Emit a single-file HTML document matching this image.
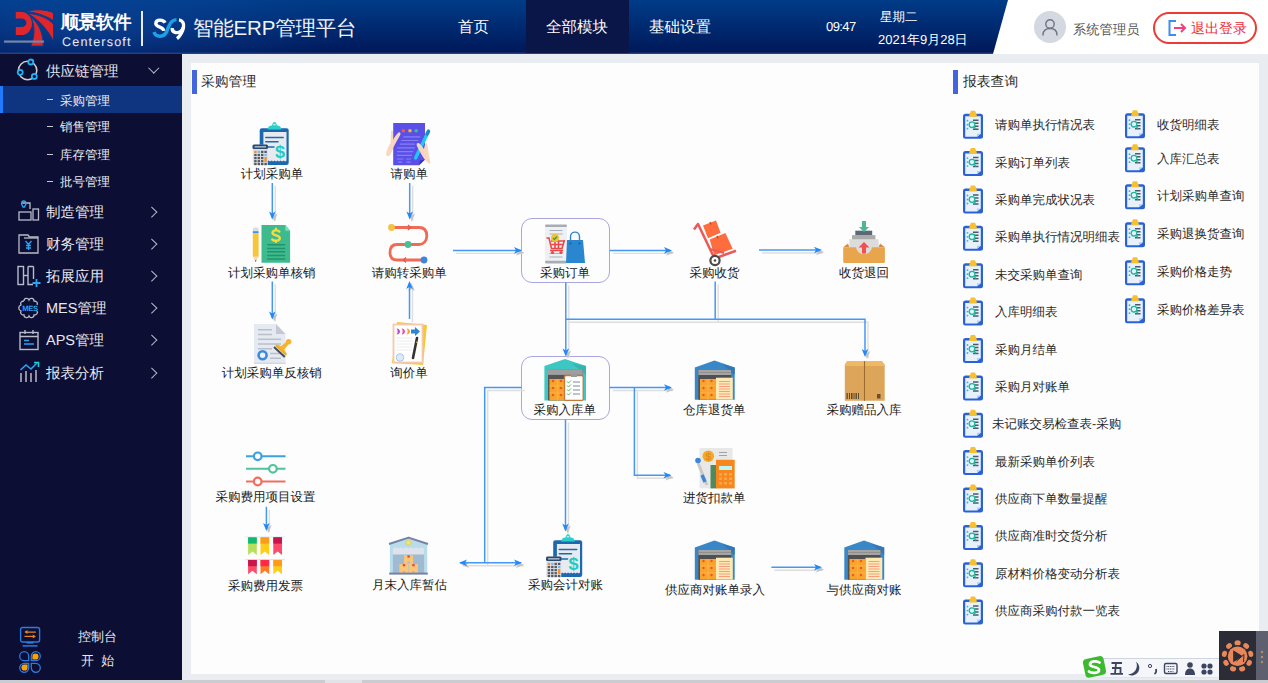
<!DOCTYPE html>
<html><head><meta charset="utf-8">
<style>
*{box-sizing:border-box;margin:0;padding:0}
html,body{width:1268px;height:683px;overflow:hidden;background:#e9ecf1;font-family:"Liberation Sans",sans-serif;text-rendering:geometricPrecision}
.abs{position:absolute}
#hdr{position:absolute;left:0;top:0;width:1268px;height:54px;background:#fff}
#hdrblue{position:absolute;left:0;top:0;width:1008px;height:54px;background:linear-gradient(#003c88 0%,#00195a 96%,#3a4a80 100%);clip-path:polygon(0 0,1008px 0,993px 54px,0 54px)}
.wt{color:#fff;white-space:nowrap}
#side{position:absolute;left:0;top:54px;width:182px;height:626px;background:#0c0e33}
.mi{position:absolute;left:46px;color:#e6e8ef;font-size:14.5px;white-space:nowrap;line-height:16px}
.si{position:absolute;left:60px;color:#e6e8ef;font-size:12.5px;white-space:nowrap;line-height:14px}
.dash{position:absolute;left:47px;width:6px;height:1.3px;background:#c8cad4}
.chev{position:absolute;left:147.5px;width:7.5px;height:7.5px;border-right:1.4px solid #b9bccb;border-top:1.4px solid #b9bccb;transform:rotate(45deg)}
#main{position:absolute;left:191px;top:63px;width:1068px;height:611px;background:#fdfdfe}
#rep{display:none}
.bar{position:absolute;width:5px;height:24px;background:#4466dd}
.ttl{position:absolute;font-size:13.8px;color:#2a2a2a;font-weight:500;white-space:nowrap;line-height:16px}
.lbl{position:absolute;font-size:12.5px;color:#1a1a1a;font-weight:500;white-space:nowrap;line-height:14px;transform:translateX(-50%)}
.ri{position:absolute;font-size:12.5px;color:#2a2a2a;font-weight:500;white-space:nowrap;line-height:14px}
.box{position:absolute;border:1.5px solid #aaa7e0;border-radius:11px}
</style></head><body>
<div id="hdr"></div>
<div id="hdrblue"></div>
<div class="abs" style="left:0;top:0;width:420px;height:53px;background:radial-gradient(ellipse 260px 60px at 90px 30px, rgba(20,85,180,0.45), rgba(20,85,180,0) 100%)"></div>

<!-- logo -->
<svg class="abs" style="left:0;top:0" width="200" height="53" viewBox="0 0 200 53">
 <path fill-rule="evenodd" d="M15.8,12.1 L21.5,12.1 A10.5,11.45 0 0 1 21.5,35 L15.8,35 Z M15.8,18.5 L21.5,18.5 A5,4.25 0 0 1 21.5,27 L15.8,27 Z" fill="#e1262b"/>
 <path d="M26,11.6 C33,9.2 45,8.8 53.5,12.8 L53.5,20.6 C45,15.2 35,12.4 26,11.6 Z" fill="#e1262b" stroke="#0a3d8e" stroke-width="1"/>
 <path d="M29.2,13.5 C38,14.2 48,18 53.5,24.2 L53.5,41 C48,30.5 40,20.5 29.2,14.4 Z" fill="#e1262b" stroke="#0a3d8e" stroke-width="1"/>
 <path d="M31,17.3 C38.5,23 43.5,33 43.2,46 L31,46 C34,38 36,28 31,17.3 Z" fill="#e1262b" stroke="#0a3d8e" stroke-width="1"/>
 <path d="M165,22.8 C163.5,19.5 156,18.8 155.8,23.5 C155.8,27.5 163.5,26.5 163.8,30.8" fill="none" stroke="#fff" stroke-width="3.4" stroke-linecap="butt"/>
 <path d="M154,32 C155.5,37 164,38.5 167,31 C169,25 171,20 176.5,19.6" fill="none" stroke="#1ea0e8" stroke-width="3.4"/>
 <path d="M179,19.8 C183,20.5 184,24 183.5,27 C183,31 180,36.5 177,38.6" fill="none" stroke="#fff" stroke-width="3.4"/>
 <path d="M183.3,27.5 C182,31 178.5,33 175.5,32.5 C173,32 172,30 172.3,28" fill="none" stroke="#fff" stroke-width="3.4"/>
</svg>
<div class="abs wt" style="left:61px;top:10px;font-size:18px;font-weight:bold;letter-spacing:-0.5px;line-height:24px">顺景软件</div>
<div class="abs wt" style="left:62px;top:33.5px;font-size:12.6px;letter-spacing:1.15px;line-height:16px;color:#e8ecf4">Centersoft</div>
<div class="abs" style="left:141px;top:11px;width:2px;height:35px;background:#e8ecf4"></div>

<div class="abs wt" style="left:193px;top:16.5px;font-size:20.5px;letter-spacing:-0.2px;line-height:24px;color:#f2f4f8">智能ERP管理平台</div>
<!-- nav -->
<div class="abs" style="left:526px;top:0;width:103px;height:53px;background:#0a1548"></div>
<div class="abs wt" style="left:458px;top:19px;font-size:15.5px;line-height:18px">首页</div>
<div class="abs wt" style="left:546px;top:19px;font-size:15.5px;line-height:18px">全部模块</div>
<div class="abs wt" style="left:649px;top:19px;font-size:15.5px;line-height:18px">基础设置</div>
<div class="abs wt" style="left:826px;top:18.5px;font-size:13px;letter-spacing:-0.6px;line-height:16px">09:47</div>
<div class="abs wt" style="left:880px;top:9.5px;font-size:12.5px;line-height:15px">星期二</div>
<div class="abs wt" style="left:878px;top:31.8px;font-size:13px;line-height:15px">2021年9月28日</div>
<!-- user -->
<div class="abs" style="left:1034px;top:11px;width:32px;height:32px;border-radius:50%;background:#d3d8e1"></div>
<svg class="abs" style="left:1040px;top:17px" width="20" height="20" viewBox="0 0 20 20">
 <circle cx="10" cy="7" r="4.2" fill="none" stroke="#6e7480" stroke-width="1.4"/>
 <path d="M3 18 C3 13 6.5 11.5 10 11.5 C13.5 11.5 17 13 17 18" fill="none" stroke="#6e7480" stroke-width="1.4" stroke-linecap="round"/>
</svg>
<div class="abs" style="left:1073px;top:21.5px;font-size:13.3px;line-height:16px;color:#555;white-space:nowrap">系统管理员</div>
<div class="abs" style="left:1153px;top:12px;width:104px;height:32px;border:2px solid #ec3a34;border-radius:16px"></div>
<svg class="abs" style="left:1167px;top:19px" width="22" height="18" viewBox="0 0 22 18">
 <path d="M9 2 L2.5 2 L2.5 16 L9 16" fill="none" stroke="#3d8cf0" stroke-width="2"/>
 <path d="M7 9 L18 9 M14 5 L18 9 L14 13" fill="none" stroke="#f0417a" stroke-width="2"/>
</svg>
<div class="abs" style="left:1191px;top:20px;font-size:14px;line-height:16px;color:#ee2b3b;white-space:nowrap">退出登录</div>

<div id="side">
 <div class="abs" style="left:0;top:32px;width:182px;height:27px;background:#0f3580"></div>
 <div class="abs" style="left:0;top:32px;width:3px;height:27px;background:#1f7bff"></div>
</div>
<!-- sidebar contents (page coords) -->
<svg class="abs" style="left:16px;top:58px" width="24" height="24" viewBox="0 0 24 24">
 <circle cx="11.6" cy="12.5" r="9.2" fill="none" stroke="#c9cbd3" stroke-width="1.6"/>
 <circle cx="14.8" cy="4" r="2.5" fill="#0c0e33" stroke="#1fb3f0" stroke-width="1.8"/>
 <circle cx="4.2" cy="14.3" r="2.5" fill="#0c0e33" stroke="#1fb3f0" stroke-width="1.8"/>
 <circle cx="18.3" cy="18.4" r="2.5" fill="#0c0e33" stroke="#1fb3f0" stroke-width="1.8"/>
</svg>
<div class="mi" style="top:63.5px;font-size:14.5px;line-height:17px">供应链管理</div>
<div class="abs" style="left:149.5px;top:64px;width:7.5px;height:7.5px;border-right:1.4px solid #b9bccb;border-bottom:1.4px solid #b9bccb;transform:rotate(45deg)"></div>
<div class="dash" style="top:99px"></div><div class="si" style="top:93.5px">采购管理</div>
<div class="dash" style="top:126px"></div><div class="si" style="top:120.3px">销售管理</div>
<div class="dash" style="top:153.5px"></div><div class="si" style="top:147.6px">库存管理</div>
<div class="dash" style="top:181px"></div><div class="si" style="top:175px">批号管理</div>
<div class="mi" style="top:205px">制造管理</div><div class="chev" style="top:207.5px"></div>
<div class="mi" style="top:237px">财务管理</div><div class="chev" style="top:239.5px"></div>
<div class="mi" style="top:269px">拓展应用</div><div class="chev" style="top:271.5px"></div>
<div class="mi" style="top:301px">MES管理</div><div class="chev" style="top:303.5px"></div>
<div class="mi" style="top:333px">APS管理</div><div class="chev" style="top:335.5px"></div>
<div class="mi" style="top:366px">报表分析</div><div class="chev" style="top:368.5px"></div>
<!-- menu icons -->
<svg class="abs" style="left:17.5px;top:200px" width="24" height="22" viewBox="0 0 24 22">
 <path d="M4 3 L12 3 L12 9" fill="none" stroke="#b9bcc8" stroke-width="1.3"/>
 <path d="M5.5 1 C7.5 1 8 2.5 8 3.5 C8 5 6.5 6 6.5 7 L5 7 C5 6 3.5 5 3.5 3.5 C3.5 2.5 4 1 5.5 1 Z" fill="none" stroke="#2aa4f4" stroke-width="1.3"/>
 <rect x="1" y="12" width="12" height="8" fill="none" stroke="#b9bcc8" stroke-width="1.3"/>
 <rect x="15" y="9" width="5.5" height="11" fill="none" stroke="#b9bcc8" stroke-width="1.3"/>
</svg>
<svg class="abs" style="left:17.5px;top:233px" width="24" height="22" viewBox="0 0 24 22">
 <path d="M1 2 L10 2 L11.5 4 L20 4 L20 20 L1 20 Z" fill="none" stroke="#b9bcc8" stroke-width="1.3"/>
 <path d="M6 5 L20 5" fill="none" stroke="#b9bcc8" stroke-width="1.3"/>
 <path d="M7.5 8 L10.5 11.5 L13.5 8 M10.5 11.5 L10.5 17 M8 12.5 L13 12.5 M8 15 L13 15" fill="none" stroke="#2aa4f4" stroke-width="1.3"/>
</svg>
<svg class="abs" style="left:16.5px;top:265px" width="26" height="22" viewBox="0 0 26 22">
 <rect x="1" y="1.5" width="5.5" height="18" fill="none" stroke="#b9bcc8" stroke-width="1.4"/>
 <path d="M6.5 10.5 L11 10.5" stroke="#b9bcc8" stroke-width="1.4"/>
 <path d="M11 1.5 L16.5 1.5 M11 1.5 L11 19.5 L16 19.5" fill="none" stroke="#b9bcc8" stroke-width="1.4"/>
 <path d="M16.5 1.5 L16.5 14" fill="none" stroke="#b9bcc8" stroke-width="1.4"/>
 <path d="M19.5 14 L19.5 22 M15.5 18 L23.5 18" stroke="#2aa4f4" stroke-width="1.8"/>
</svg>
<svg class="abs" style="left:16.5px;top:297px" width="26" height="22" viewBox="0 0 26 22">
 <path d="M7 4 C7 1 11 0.5 12 3 C13 0.5 17 1 17 4 C20 4 21 6 20 8 M20 14 C21 16 20 18 17 18 C17 21 13 21.5 12 19 C11 21.5 7 21 7 18 C4 18 3 16 4 14 C1 13 1 9 4 8 C3 6 4 4 7 4" fill="none" stroke="#b9bcc8" stroke-width="1.3"/>
 <text x="5.2" y="14.2" font-family="Liberation Sans" font-weight="bold" font-size="7.6" letter-spacing="-0.3" fill="#2aa4f4">MES</text>
</svg>
<svg class="abs" style="left:18.5px;top:329px" width="22" height="22" viewBox="0 0 22 22">
 <rect x="1" y="3.5" width="18" height="17" fill="none" stroke="#b9bcc8" stroke-width="1.4"/>
 <path d="M1 7.5 L19 7.5 M6 1 L6 5 M14 1 L14 5" fill="none" stroke="#b9bcc8" stroke-width="1.4"/>
 <path d="M5 11.5 L10 11.5 M5 15 L15 15" stroke="#2aa4f4" stroke-width="1.6"/>
</svg>
<svg class="abs" style="left:18.5px;top:361px" width="22" height="22" viewBox="0 0 22 22">
 <path d="M2 12 L2 21 M7 10 L7 21 M12 12 L12 21 M17 9 L17 21" stroke="#b9bcc8" stroke-width="1.5"/>
 <path d="M1.5 9 L7 4 L12 8 L18 2" fill="none" stroke="#2aa4f4" stroke-width="1.6"/>
 <path d="M15 1.5 L19.5 1.5 L19.5 6" fill="none" stroke="#20d0d0" stroke-width="1.6"/>
</svg>
<!-- bottom -->
<svg class="abs" style="left:19px;top:626px" width="23" height="22" viewBox="0 0 23 22">
 <rect x="1.6" y="1.5" width="19" height="14.5" rx="2" fill="none" stroke="#2a7be2" stroke-width="1.4"/>
 <rect x="7.5" y="16" width="7" height="1.6" fill="#2a7be2"/>
 <path d="M3.5 19.9 L18.5 19.9" stroke="#2a7be2" stroke-width="1.5"/>
 <path d="M6.5 6.1 L16.8 6.1 M5.5 10.4 L15.5 10.4" stroke="#e8841e" stroke-width="1.2"/>
 <path d="M8.5 4.1 L5.4 6.1 L8.5 8.1 Z M13.8 8.4 L16.9 10.4 L13.8 12.4 Z" fill="#e8841e"/>
</svg>
<svg class="abs" style="left:19px;top:651px" width="22" height="22" viewBox="0 0 22 22">
 <path d="M9.7 9.7 L5.2 9.7 A4.5 4.5 0 1 1 9.7 5.2 Z" fill="none" stroke="#2a7be2" stroke-width="1.3"/>
 <path d="M12.3 9.7 L12.3 5.2 A4.5 4.5 0 1 1 16.8 9.7 Z" fill="none" stroke="#2a7be2" stroke-width="1.3"/>
 <path d="M13.4 8.6 L13.4 5.6 A3.1 3.1 0 1 1 16.4 8.6 Z" fill="#f7a20a"/>
 <path d="M9.7 12.3 L9.7 16.8 A4.5 4.5 0 1 1 5.2 12.3 Z" fill="none" stroke="#2a7be2" stroke-width="1.3"/>
 <path d="M8.6 13.4 L8.6 16.4 A3.1 3.1 0 1 1 5.6 13.4 Z" fill="#f7a20a"/>
 <path d="M12.3 12.3 L16.8 12.3 A4.5 4.5 0 1 1 12.3 16.8 Z" fill="none" stroke="#2a7be2" stroke-width="1.3"/>
</svg>
<div class="abs wt" style="left:78px;top:629px;font-size:13px;line-height:16px;color:#e6e8ef">控制台</div>
<div class="abs wt" style="left:81px;top:653px;font-size:13px;line-height:16px;color:#e6e8ef">开&nbsp;&nbsp;始</div>
<!-- panels -->
<div id="main"></div>
<div id="rep"></div>
<div class="bar" style="left:192px;top:70px"></div>
<div class="ttl" style="left:201px;top:74px">采购管理</div>
<div class="bar" style="left:953px;top:70px"></div>
<div class="ttl" style="left:963px;top:74px">报表查询</div>
<div class="box" style="left:521px;top:218px;width:89px;height:65px"></div>
<div class="box" style="left:521px;top:356px;width:89px;height:64px"></div>
<svg class="abs" style="left:0;top:0" width="1268" height="683" viewBox="0 0 1268 683"><defs>
<symbol id="ri" viewBox="0 0 22 30">
 <rect x="1" y="4" width="20" height="25" rx="2.5" fill="#2a62d6"/>
 <path d="M3.2 6.5 L18.8 6.5 L18.8 24 L15 27 L3.2 27 Z" fill="#e6f1fb"/>
 <path d="M15 27 L18.8 24 L15 24 Z" fill="#b8cce8"/>
 <path d="M7.5 4.5 L9 1 L13 1 L14.5 4.5 L15 7 L7 7 Z" fill="#f6c02e"/>
 <circle cx="5.5" cy="11" r="0.9" fill="#30b0f0"/><circle cx="5.5" cy="15" r="0.9" fill="#30b0f0"/><circle cx="5.5" cy="19" r="0.9" fill="#30b0f0"/>
 <path d="M11 10.5 L16.5 10.5 M12.5 13.5 L16.5 13.5 M13 16.5 L16.5 16.5 M11 19.5 L16.5 19.5" stroke="#4a5a6a" stroke-width="1.5"/>
 <circle cx="10" cy="15" r="2.8" fill="#e6f1fb" stroke="#22b59a" stroke-width="1.3"/>
 <path d="M12 17 L14 19.5" stroke="#22b59a" stroke-width="1.3"/>
</symbol></defs><path d="M275.3,186.0 L275.3,221.0" fill="none" stroke="#dedede" stroke-width="1.4"/>
<path d="M274.3,221.5 L271.0,213.5 L274.3,215.5 L277.6,213.5Z" fill="#c4c4c4"/>
<path d="M272.3,183.0 L272.3,218.0" fill="none" stroke="#4497f7" stroke-width="1.5"/>
<path d="M272.3,219.5 L269.0,211.5 L272.3,213.5 L275.6,211.5Z" fill="#2389f5"/>
<path d="M412.7,186.0 L412.7,221.0" fill="none" stroke="#dedede" stroke-width="1.4"/>
<path d="M411.7,221.5 L408.4,213.5 L411.7,215.5 L415.0,213.5Z" fill="#c4c4c4"/>
<path d="M409.7,183.0 L409.7,218.0" fill="none" stroke="#4497f7" stroke-width="1.5"/>
<path d="M409.7,219.5 L406.4,211.5 L409.7,213.5 L413.0,211.5Z" fill="#2389f5"/>
<path d="M275.3,284.5 L275.3,321.0" fill="none" stroke="#dedede" stroke-width="1.4"/>
<path d="M274.3,321.5 L271.0,313.5 L274.3,315.5 L277.6,313.5Z" fill="#c4c4c4"/>
<path d="M272.3,281.5 L272.3,318.0" fill="none" stroke="#4497f7" stroke-width="1.5"/>
<path d="M272.3,319.5 L269.0,311.5 L272.3,313.5 L275.6,311.5Z" fill="#2389f5"/>
<path d="M412.5,322.0 L412.5,286.0" fill="none" stroke="#dedede" stroke-width="1.4"/>
<path d="M411.5,283.0 L408.2,291.0 L411.5,289.0 L414.8,291.0Z" fill="#c4c4c4"/>
<path d="M409.5,319.0 L409.5,283.0" fill="none" stroke="#4497f7" stroke-width="1.5"/>
<path d="M409.5,281.0 L406.2,289.0 L409.5,287.0 L412.8,289.0Z" fill="#2389f5"/>
<path d="M456.0,253.4 L524.0,253.4" fill="none" stroke="#dedede" stroke-width="1.4"/>
<path d="M524.0,252.4 L516.0,249.1 L518.0,252.4 L516.0,255.7Z" fill="#c4c4c4"/>
<path d="M453.0,250.4 L521.0,250.4" fill="none" stroke="#4497f7" stroke-width="1.5"/>
<path d="M522.0,250.4 L514.0,247.1 L516.0,250.4 L514.0,253.7Z" fill="#2389f5"/>
<path d="M613.0,253.4 L673.0,253.4" fill="none" stroke="#dedede" stroke-width="1.4"/>
<path d="M674.0,252.4 L666.0,249.1 L668.0,252.4 L666.0,255.7Z" fill="#c4c4c4"/>
<path d="M610.0,250.4 L670.0,250.4" fill="none" stroke="#4497f7" stroke-width="1.5"/>
<path d="M672.0,250.4 L664.0,247.1 L666.0,250.4 L664.0,253.7Z" fill="#2389f5"/>
<path d="M762.0,253.0 L823.0,253.0" fill="none" stroke="#dedede" stroke-width="1.4"/>
<path d="M824.0,252.0 L816.0,248.7 L818.0,252.0 L816.0,255.3Z" fill="#c4c4c4"/>
<path d="M759.0,250.0 L820.0,250.0" fill="none" stroke="#4497f7" stroke-width="1.5"/>
<path d="M822.0,250.0 L814.0,246.7 L816.0,250.0 L814.0,253.3Z" fill="#2389f5"/>
<path d="M568.8,285.5 L568.8,358.0" fill="none" stroke="#dedede" stroke-width="1.4"/>
<path d="M567.8,358.6 L564.5,350.6 L567.8,352.6 L571.1,350.6Z" fill="#c4c4c4"/>
<path d="M565.8,282.5 L565.8,355.0" fill="none" stroke="#4497f7" stroke-width="1.5"/>
<path d="M565.8,356.6 L562.5,348.6 L565.8,350.6 L569.1,348.6Z" fill="#2389f5"/>
<path d="M718.2,284.5 L718.2,322.2" fill="none" stroke="#dedede" stroke-width="1.4"/>
<path d="M715.2,281.5 L715.2,319.2" fill="none" stroke="#4497f7" stroke-width="1.5"/>
<path d="M568.8,322.2 L868.0,322.2 L868.0,358.0" fill="none" stroke="#dedede" stroke-width="1.4"/>
<path d="M867.0,359.0 L863.7,351.0 L867.0,353.0 L870.3,351.0Z" fill="#c4c4c4"/>
<path d="M565.8,319.2 L865.0,319.2 L865.0,355.0" fill="none" stroke="#4497f7" stroke-width="1.5"/>
<path d="M865.0,357.0 L861.7,349.0 L865.0,351.0 L868.3,349.0Z" fill="#2389f5"/>
<path d="M612.7,390.5 L673.0,390.5" fill="none" stroke="#dedede" stroke-width="1.4"/>
<path d="M674.0,389.5 L666.0,386.2 L668.0,389.5 L666.0,392.8Z" fill="#c4c4c4"/>
<path d="M609.7,387.5 L670.0,387.5" fill="none" stroke="#4497f7" stroke-width="1.5"/>
<path d="M672.0,387.5 L664.0,384.2 L666.0,387.5 L664.0,390.8Z" fill="#2389f5"/>
<path d="M637.4,390.5 L637.4,478.2 L673.0,478.2" fill="none" stroke="#dedede" stroke-width="1.4"/>
<path d="M673.5,477.2 L665.5,473.9 L667.5,477.2 L665.5,480.5Z" fill="#c4c4c4"/>
<path d="M634.4,387.5 L634.4,475.2 L670.0,475.2" fill="none" stroke="#4497f7" stroke-width="1.5"/>
<path d="M671.5,475.2 L663.5,471.9 L665.5,475.2 L663.5,478.5Z" fill="#2389f5"/>
<path d="M524.7,390.5 L487.7,390.5 L487.7,565.7" fill="none" stroke="#dedede" stroke-width="1.4"/>
<path d="M521.7,387.5 L484.7,387.5 L484.7,562.7" fill="none" stroke="#4497f7" stroke-width="1.5"/>
<path d="M463.0,565.7 L524.0,565.7" fill="none" stroke="#dedede" stroke-width="1.4"/>
<path d="M461.0,564.7 L469.0,561.4 L467.0,564.7 L469.0,568.0Z" fill="#c4c4c4"/>
<path d="M524.0,564.7 L516.0,561.4 L518.0,564.7 L516.0,568.0Z" fill="#c4c4c4"/>
<path d="M460.0,562.7 L521.0,562.7" fill="none" stroke="#4497f7" stroke-width="1.5"/>
<path d="M459.0,562.7 L467.0,559.4 L465.0,562.7 L467.0,566.0Z" fill="#2389f5"/>
<path d="M522.0,562.7 L514.0,559.4 L516.0,562.7 L514.0,566.0Z" fill="#2389f5"/>
<path d="M568.5,422.6 L568.5,533.0" fill="none" stroke="#dedede" stroke-width="1.4"/>
<path d="M567.5,533.5 L564.2,525.5 L567.5,527.5 L570.8,525.5Z" fill="#c4c4c4"/>
<path d="M565.5,419.6 L565.5,530.0" fill="none" stroke="#4497f7" stroke-width="1.5"/>
<path d="M565.5,531.5 L562.2,523.5 L565.5,525.5 L568.8,523.5Z" fill="#2389f5"/>
<path d="M269.4,509.8 L269.4,532.0" fill="none" stroke="#dedede" stroke-width="1.4"/>
<path d="M268.4,532.9 L265.1,524.9 L268.4,526.9 L271.7,524.9Z" fill="#c4c4c4"/>
<path d="M266.4,506.8 L266.4,529.0" fill="none" stroke="#4497f7" stroke-width="1.5"/>
<path d="M266.4,530.9 L263.1,522.9 L266.4,524.9 L269.7,522.9Z" fill="#2389f5"/>
<path d="M774.4,570.3 L823.0,570.3" fill="none" stroke="#dedede" stroke-width="1.4"/>
<path d="M824.0,569.3 L816.0,566.0 L818.0,569.3 L816.0,572.6Z" fill="#c4c4c4"/>
<path d="M771.4,567.3 L820.0,567.3" fill="none" stroke="#4497f7" stroke-width="1.5"/>
<path d="M822.0,567.3 L814.0,564.0 L816.0,567.3 L814.0,570.6Z" fill="#2389f5"/>
<!-- clipboard+calc: 计划采购单 -->
<g id="clipcalc" transform="translate(252,122)">
 <rect x="7.7" y="6.3" width="29" height="36.6" rx="2.2" fill="#1d69b0"/>
 <path d="M11.4 9.9 L34.5 9.9 L34.5 38.5 l-1.4 1 l-1.5 -1 l-1.5 1 l-1.5 -1 l-1.5 1 l-1.5 -1 l-1.5 1 l-1.5 -1 l-1.5 1 l-1.5 -1 l-1.5 1 l-1.5 -1 l-1.5 1 l-1.5 -1 L11.4 39.5 Z" fill="#e7ebf0"/>
 <path d="M15.6 7.5 C15.8 4.8 17.5 3.6 20 3.4 C20.5 1.2 21.6 0 22.5 0 C23.4 0 24.5 1.2 25 3.4 C27.5 3.6 29.2 4.8 29.4 7.5 Z" fill="#2bd0cc"/>
 <ellipse cx="22.5" cy="2.6" rx="1.3" ry="0.9" fill="#bff3f1"/>
 <path d="M13.8 15.4 L31.2 15.4 M13.8 19.8 L26 19.8 M15.8 25 L22 25" stroke="#1d69b0" stroke-width="1.5" stroke-linecap="round"/>
 <text x="23" y="36" font-family="Liberation Sans" font-weight="bold" font-size="18" fill="#25c9c4">$</text>
 <rect x="0.8" y="22.7" width="15" height="20.2" fill="#dcdfe3"/>
 <rect x="0.5" y="22.5" width="15.6" height="4.6" rx="1.6" fill="#2b4a72"/>
 <rect x="2.6" y="24" width="11.4" height="1.6" fill="#9fb2c8"/>
 <rect x="2.2" y="28.8" width="2.4" height="2.2" fill="#f0913a"/><rect x="5.6" y="28.8" width="2.4" height="2.2" fill="#7cb8ea"/><rect x="9.0" y="28.8" width="2.4" height="2.2" fill="#555a60"/><rect x="12.4" y="28.8" width="2.4" height="2.2" fill="#555a60"/><rect x="2.2" y="31.9" width="2.4" height="2.2" fill="#555a60"/><rect x="5.6" y="31.9" width="2.4" height="2.2" fill="#555a60"/><rect x="9.0" y="31.9" width="2.4" height="2.2" fill="#555a60"/><rect x="12.4" y="31.9" width="2.4" height="2.2" fill="#7cb8ea"/><rect x="2.2" y="35.0" width="2.4" height="2.2" fill="#555a60"/><rect x="5.6" y="35.0" width="2.4" height="2.2" fill="#555a60"/><rect x="9.0" y="35.0" width="2.4" height="2.2" fill="#555a60"/><rect x="2.2" y="38.1" width="2.4" height="2.2" fill="#555a60"/><rect x="5.6" y="38.1" width="2.4" height="2.2" fill="#555a60"/><rect x="9.0" y="38.1" width="2.4" height="2.2" fill="#555a60"/><rect x="2.2" y="41.0" width="2.4" height="2.2" fill="#555a60"/><rect x="5.6" y="41.0" width="2.4" height="2.2" fill="#555a60"/><rect x="9.0" y="41.0" width="2.4" height="2.2" fill="#555a60"/><rect x="12.4" y="41.0" width="2.4" height="2.2" fill="#555a60"/><rect x="12.4" y="35.0" width="2.4" height="5.3" fill="#f0913a"/>
</g>
<use href="#clipcalc" x="293.5" y="412"/>
<!-- 请购单 -->
<g transform="translate(386,122)">
 <path d="M7.2 1.1 L39 1.1 L39 37.5 L33 43.2 L7.2 43.2 Z" fill="#5a50e8"/>
 <path d="M33 43.2 L39 37.5 L34 38.5 Z" fill="#3a2fc0"/>
 <circle cx="17.4" cy="8.8" r="1.8" fill="#f0584a"/><circle cx="24" cy="8.8" r="1.8" fill="#f5b52e"/><circle cx="30.2" cy="8.8" r="1.8" fill="#2ec48a"/>
 <path d="M17.4 14.9 L34.2 14.9 M15.2 18.5 L32.4 18.5 M13.8 22.2 L28.8 22.2 M11.2 25.9 L28.8 25.9 M10.8 29.7 L27.2 29.7 M10.8 33.3 L25.8 33.3 M10.8 37 L17.5 37 M20 37 L25 37 M12 40.2 L16 40.2 M20.5 40.2 L24.5 40.2" stroke="#8680f2" stroke-width="1.2"/>
 <g transform="translate(-1.5,-4)"><path d="M1.5 37 C2 32 4 28 6 25 L6.5 13 C7.5 12 8.5 12.5 8.5 14 L8.5 22 C10 19 12 16 14 14.5 C15.5 14 16.5 15 15.8 16.8 C13.5 21 11 25.5 9 29 C8 33 6 36.5 4 38.5 Z" fill="#f8d6c0"/>
 <path d="M31.1 39.9 L44 13.2" stroke="#22c6f2" stroke-width="3.4" stroke-linecap="round"/>
 <path d="M42.6 16 L44 13.2" stroke="#1a8fb8" stroke-width="3.4" stroke-linecap="round"/>
 <path d="M32.2 25.5 C33.5 24.5 35 25 36 26.5 L39.5 31 C40 27 41 25.5 42.5 25 C43.5 29 43.8 34 44.5 38 C45.5 41 46 44 45.5 46 C43 45 40.5 42 38.5 39 C36 35 34 31 32.2 27.5 Z" fill="#f8d6c0"/>
</g>
</g>
<!-- 计划采购单核销 -->
<g transform="translate(252,224)">
 <path d="M9.5 1 L33.3 1 L38.1 6.8 L38.1 38.7 L9.5 38.7 Z" fill="#3dbb8e"/>
 <path d="M33.3 1 L38.1 6.8 L33.3 6.8 Z" fill="#74e2bc"/>
 <path d="M27.4 7.6 C26.5 6 20.8 5.6 20.5 8.8 C20.2 11.8 28 11 27.8 14.2 C27.6 17.4 21.6 17.4 20.3 15.5" fill="none" stroke="#f6dc3c" stroke-width="2.4" stroke-linecap="round"/>
 <path d="M24 4.6 L24 5.8 M24 16.8 L24 18" stroke="#f6dc3c" stroke-width="2.2" stroke-linecap="round"/>
 <path d="M15.2 20.7 L33.2 20.7 M15.2 24.4 L33.2 24.4 M15.2 27.8 L33.2 27.8 M15.2 31.5 L33.2 31.5 M15.2 35 L33.2 35" stroke="#23946a" stroke-width="1.5"/>
 <path d="M0.8 5.5 C0.8 4 2 3.5 3.8 3.5 C5.6 3.5 6.6 4 6.6 5.5 L6.6 7.2 L0.8 7.2 Z" fill="#d9dde3"/>
 <rect x="0.8" y="7.2" width="5.8" height="2.2" fill="#3e94e0"/>
 <rect x="0.8" y="9.4" width="5.8" height="23.4" fill="#f7c53a"/>
 <path d="M0.8 32.8 L6.6 32.8 L3.7 38 Z" fill="#f3dcb8"/>
 <path d="M2.9 36.3 L4.5 36.3 L3.7 38 Z" fill="#444"/>
</g>
<!-- 请购转采购单 -->
<g transform="translate(386,222)">
 <path d="M6 5.5 L33 5.5 C38.5 5.5 40.8 9 40.8 14 C40.8 19 37.5 22.5 33 22.5 L11 22.5 C6.5 22.5 4 25.5 4 30.5 C4 35.5 6.5 38 11 38 L37 38" fill="none" stroke="#ef6b55" stroke-width="2.8"/>
 <path d="M22 3 L24.5 5.5 L22 8 M20 35.5 L17.5 38 L20 40.5" fill="none" stroke="#e05a45" stroke-width="1.3"/>
 <circle cx="5.5" cy="5.5" r="3.4" fill="#f5c242"/>
 <circle cx="22" cy="22.5" r="3.4" fill="#47c193"/>
 <circle cx="38" cy="38" r="3.4" fill="#3b86e0"/>
</g>
<!-- 计划采购单反核销 -->
<g transform="translate(252,323)">
 <path d="M2 1 L24 1 L33.5 11 L33.5 41 L2 41 Z" fill="#e5e9f1"/>
 <path d="M24 1 L33.5 11 L24 11 Z" fill="#c4c8d2"/>
 <rect x="2" y="39.5" width="31.5" height="1.5" fill="#d3d7df"/>
 <path d="M6 6.7 L20 6.7 M6 11.5 L20 11.5 M6 16.2 L29 16.2 M6 21 L29 21 M6 25.7 L20 25.7 M18 30.5 L29 30.5 M18 35.3 L29 35.3" stroke="#babfc9" stroke-width="1.4"/>
 <circle cx="10.6" cy="32.3" r="4" fill="#eef2f8" stroke="#3c8ae0" stroke-width="2.6"/>
 <path d="M22 24 L32.8 34" stroke="#3f4a5c" stroke-width="2"/>
 <path d="M23.2 22.8 L33.8 32.8 L35 31 C34 29.5 33 28 32.2 26.5 L36.5 21.5 C38.2 21.6 39.6 20.4 39.5 18.6 C39.4 16.8 37.8 15.6 36 16 C34.4 16.4 33.6 17.8 33.9 19.2 L29 23.2 C27.5 22.5 26 21.8 25 21.2 Z" fill="#f6b42e"/>
 <path d="M24 22.5 L33.8 31.8" stroke="#e59a1a" stroke-width="0.8"/>
</g>
<!-- 询价单 -->
<g transform="translate(385,318)">
 <path d="M12 4 L42 7 L38 47 L7 45 Z" fill="#f5c830"/>
 <rect x="8.5" y="6.5" width="29" height="38" fill="#fff" stroke="#f6c9a6" stroke-width="1.8"/>
 <path d="M11.5 10.5 C14 10.5 15 12 15 13.5 C15 15 14 16.5 11.5 16.5 C13 15 13 12 11.5 10.5 Z" fill="#b04fd2"/>
 <path d="M16.5 10.5 C19 10.5 20 12 20 13.5 C20 15 19 16.5 16.5 16.5 C18 15 18 12 16.5 10.5 Z" fill="#e84fae"/>
 <path d="M21.5 10.5 C24 10.5 25 12 25 13.5 C25 15 24 16.5 21.5 16.5 C23 15 23 12 21.5 10.5 Z" fill="#f5a830"/>
 <path d="M26 11.5 L30 11.5 L30 9 L35 13.5 L30 18 L30 15.5 L26 15.5 Z" fill="#2a85d8"/>
 <path d="M12 20 L28 20 M12 23 L28 23 M12 26 L28 26 M12 29 L27 29 M12 32 L27 32" stroke="#ececec" stroke-width="1"/>
 <path d="M32 20 L28 40" stroke="#333" stroke-width="2.6" stroke-linecap="round"/>
 <path d="M31 24 L33 24.5" stroke="#f5c830" stroke-width="1.2"/>
 <circle cx="15" cy="39.5" r="3.8" fill="#dfeaf8" stroke="#a9c6ee" stroke-width="1"/>
</g>
<!-- 采购订单 -->
<g transform="translate(544,224)">
 <rect x="1" y="1" width="22" height="38" fill="#eef0f3"/>
 <rect x="1" y="0.5" width="22" height="2.6" rx="1.3" fill="#a7adb4"/>
 <rect x="1" y="36.8" width="22" height="2.6" rx="1.3" fill="#a7adb4"/>
 <path d="M5.5 6.5 L18.5 6.5 M5.5 10 L18.5 10 M5.5 33 L18.5 33 M5.5 29.5 L18.5 29.5" stroke="#a9afb6" stroke-width="1.1"/>
 <path d="M2.5 14 L5 14 L7.5 24.5 L18 24.5 L20.5 16 M7 17 L20 17 M7.5 20.5 L19 20.5 M11 17 L11 24 M14.5 17 L14.5 24 M6 26.5 L19 26.5" fill="none" stroke="#e84848" stroke-width="1.6"/>
 <circle cx="8.5" cy="28.5" r="1.6" fill="#e84848"/><circle cx="17" cy="28.5" r="1.6" fill="#e84848"/>
 <circle cx="11" cy="14" r="4" fill="#f5c02e"/>
 <path d="M9 14 L10.5 15.5 L13 12.5" fill="none" stroke="#3aa04a" stroke-width="1.3"/>
 <path d="M23 16 L39 16 L41 39 L22 39 Z" fill="#2a86cf"/>
 <path d="M26.5 22 L26.5 13 C26.5 6.5 35.5 6.5 35.5 13 L35.5 22" fill="none" stroke="#2a86cf" stroke-width="1.4"/><circle cx="26.5" cy="19.5" r="0.9" fill="#1a5a98"/><circle cx="35.5" cy="19.5" r="0.9" fill="#1a5a98"/>
</g>
<!-- 采购收货 -->
<g transform="translate(690,215)">
 <path d="M13 10.5 L26 5.5 L30.6 17.7 L18 23.3 Z" fill="#ff6c3d"/>
 <path d="M19.7 24.6 L35.4 18.1 L42.7 33.8 L24.2 40.3 Z" fill="#ff6c3d"/>
 <path d="M20 7 L21 9.5 M27 21 L28 23.5" stroke="#b0502a" stroke-width="1.3"/>
 <path d="M4 14.5 L8 9 L24.5 43.5 L46 35.8" fill="none" stroke="#ea5a5a" stroke-width="2.5" stroke-linejoin="round"/>
 <path d="M20 34 L34 38" stroke="#ea5a5a" stroke-width="2.3"/>
 <circle cx="25" cy="45.5" r="4.6" fill="#fff" stroke="#4a4a4a" stroke-width="2.2"/>
 <circle cx="25" cy="45.5" r="1.3" fill="#4a4a4a"/>
</g>
<!-- 收货退回 -->
<g transform="translate(840,215)">
 <rect x="9.3" y="24.2" width="29.3" height="16" fill="#dcdcdc"/>
 <rect x="12" y="20.1" width="23.4" height="4.2" fill="#ababab"/>
 <rect x="15.3" y="15.7" width="16.9" height="4.4" fill="#5a6877"/>
 <path d="M22 6 L26 6 L26 12 L29 12 L24 17 L19 12 L22 12 Z" fill="#4bb891"/>
 <path d="M3.2 32.2 L8 28.5 L9.3 32.2 Z M44.9 32.2 L40 28.5 L38.6 32.2 Z" fill="#d98a40"/>
 <path d="M3.2 32.2 L16 32.2 C17 37 20 39 24 39 C28 39 31 37 32 32.2 L44.9 32.2 L44.9 46.5 C44.9 47.5 44 48 43 48 L5 48 C4 48 3.2 47.5 3.2 46.5 Z" fill="#e9a54c"/>
 <path d="M24 27 L29.5 32.5 L26 32.5 L26 38.5 L22 38.5 L22 32.5 L18.5 32.5 Z" fill="#f25050"/>
</g>
<!-- 采购入库单 (teal warehouse) -->
<g transform="translate(540,355)">
 <path d="M4.4 11 L25 4 L46 11 L46 45.4 L4.4 45.4 Z" fill="#3cc7c2"/>
 <path d="M32 8.5 L46 11 L46 20 Z" fill="#33b5b0"/>
 <rect x="8" y="14.3" width="34.5" height="31.1" fill="#555"/>
 <rect x="8" y="14.3" width="34.5" height="5.5" fill="#a9a9a9"/>
 <path d="M8 16 L42.5 16 M8 18 L42.5 18" stroke="#8e8e8e" stroke-width="0.7"/>
 <rect x="9.5" y="24" width="16" height="21.4" fill="#f7a32c"/>
 <path d="M17.5 24 L17.5 45.4 M9.5 31 L25.5 31 M9.5 38 L25.5 38" stroke="#f9b84e" stroke-width="0.8"/>
 <g fill="#f0562a"><circle cx="13" cy="26" r="1.3"/><circle cx="21" cy="26" r="1.3"/><circle cx="13" cy="33" r="1.3"/><circle cx="21" cy="33" r="1.3"/><circle cx="13" cy="40" r="1.3"/><circle cx="21" cy="40" r="1.3"/></g>
 <rect x="24.5" y="20.5" width="18.7" height="24.9" rx="1.5" fill="#fff" stroke="#c8773a" stroke-width="1.3"/>
 <rect x="31" y="19" width="6" height="3" fill="#9a9a9a"/>
 <path d="M27 26.5 L28.5 28 L31 25.5 M27 30.5 L28.5 32 L31 29.5 M27 34.5 L28.5 36 L31 33.5 M27 38.5 L28.5 40 L31 37.5" fill="none" stroke="#5cba5a" stroke-width="1"/>
 <path d="M33 27 L40 27 M33 31 L40 31 M33 35 L40 35 M33 39 L40 39" stroke="#7a8aa0" stroke-width="1.2"/>
</g>
<!-- blue warehouse -->
<g id="bwh" transform="translate(690,355)">
 <path d="M4.8 12.4 L24.5 5.5 L44.7 12.4 L44.7 44.7 L4.8 44.7 Z" fill="#3a87c8"/>
 <path d="M32 9 L44.7 12.4 L44.7 20 Z" fill="#3378b5"/>
 <rect x="8.4" y="15" width="32.6" height="29.7" fill="#505050"/>
 <rect x="8.4" y="15" width="32.6" height="5" fill="#a5a5a5"/>
 <path d="M8.4 17.5 L41 17.5" stroke="#8a8a8a" stroke-width="0.8"/>
 <rect x="10" y="24" width="16" height="20.7" fill="#f9a42c"/>
 <path d="M18 24 L18 44.7 M10 31 L26 31 M10 38 L26 38" stroke="#fbb850" stroke-width="0.8"/>
 <g fill="#f0562a"><circle cx="13.5" cy="26" r="1.2"/><circle cx="21.5" cy="26" r="1.2"/><circle cx="13.5" cy="33" r="1.2"/><circle cx="21.5" cy="33" r="1.2"/><circle cx="13.5" cy="40" r="1.2"/><circle cx="21.5" cy="40" r="1.2"/></g>
 <rect x="26" y="22.7" width="16.8" height="22" fill="#fde9b6"/>
 <path d="M29 26.5 L40 26.5 M29 29 L40 29 M29 31.5 L40 31.5 M29 34 L40 34 M29 36.5 L40 36.5 M29 39 L40 39 M29 41.5 L40 41.5" stroke="#f08a70" stroke-width="0.8"/>
</g>
<use href="#bwh" x="0" y="180"/>
<use href="#bwh" x="149.5" y="180"/>
<!-- 采购赠品入库 box -->
<g transform="translate(840,355)">
 <path d="M7 6.2 L42 6.2 L44.7 10 L44.7 45.8 L4.8 45.8 L4.8 10 Z" fill="#dca55a"/>
 <path d="M7 6.2 L42 6.2 L44.7 10 L44.7 11 L4.8 11 L4.8 10 Z" fill="#f0b862"/>
 <path d="M24.5 6.2 L24.5 45.8" stroke="#9a6a30" stroke-width="1.1"/>
 <g fill="#5a4a30"><rect x="6.5" y="38" width="1.3" height="6"/><rect x="9" y="38" width="1" height="6"/><rect x="11" y="38" width="1.5" height="6"/><rect x="13.5" y="38" width="1" height="6"/><rect x="15.5" y="38" width="1.4" height="6"/><rect x="18" y="38" width="1" height="6"/></g>
 <rect x="37" y="39" width="3.5" height="4.5" fill="#6a5030"/>
</g>
<!-- 进货扣款单 -->
<g transform="translate(690,443)">
 <rect x="9.5" y="5" width="33" height="40.4" fill="#e8e8e8"/>
 <circle cx="18.3" cy="13.2" r="5.8" fill="#f5a82a"/>
 <text x="15.4" y="17" font-family="Liberation Sans" font-size="10" fill="#d9861a">$</text>
 <path d="M29 9.5 L37 9.5 M29 12.5 L37 12.5" stroke="#9a9a9a" stroke-width="0.9"/>
 <rect x="20.5" y="22" width="6" height="23.4" fill="#4f8a5e"/>
 <rect x="26" y="16.8" width="18.7" height="28.6" fill="#f7861c"/>
 <rect x="29" y="23" width="13" height="4" fill="#b8f4f8"/>
 <g fill="#f7a94a"><rect x="29" y="30" width="3" height="2.5"/><rect x="34" y="30" width="3" height="2.5"/><rect x="39" y="30" width="3" height="2.5"/><rect x="29" y="34.5" width="3" height="2.5"/><rect x="34" y="34.5" width="3" height="2.5"/><rect x="39" y="34.5" width="3" height="2.5"/><rect x="29" y="39" width="3" height="2.5"/><rect x="34" y="39" width="3" height="2.5"/><rect x="39" y="39" width="3" height="2.5"/></g>
 <path d="M8 20 L17 42" stroke="#c8c8c8" stroke-width="3"/>
 <circle cx="8" cy="17.5" r="2.8" fill="#3b86d6"/>
 <path d="M12 32 L15 39" stroke="#3b86d6" stroke-width="3.4"/>
</g>
<!-- sliders -->
<g transform="translate(244,450)">
 <path d="M2 6.3 L41.5 6.3" stroke="#3aa2e2" stroke-width="2.1"/>
 <circle cx="13.7" cy="6.3" r="3.8" fill="#fdfdfe" stroke="#3aa2e2" stroke-width="2.2"/>
 <path d="M2 18.8 L41.5 18.8" stroke="#52c39c" stroke-width="2.1"/>
 <circle cx="28.9" cy="18.8" r="3.8" fill="#fdfdfe" stroke="#52c39c" stroke-width="2.2"/>
 <path d="M2 31.5 L41.5 31.5" stroke="#ef6e5e" stroke-width="2.1"/>
 <circle cx="13.7" cy="31.5" r="3.8" fill="#fdfdfe" stroke="#ef6e5e" stroke-width="2.2"/>
</g>
<!-- flags -->
<g transform="translate(244,535)">
 <path d="M0.8 2 L41 2 M0.8 24.6 L41 24.6" stroke="#d8e8f6" stroke-width="1.2"/>
 <path d="M4.1 2.3 L12.799999999999999 2.3 L12.799999999999999 19.9 L8.45 16.4 L4.1 19.9 Z" fill="#b6e05a"/><rect x="4.1" y="2.3" width="8.7" height="6.3" fill="#10b872"/>
 <path d="M16.5 2.3 L25.2 2.3 L25.2 19.9 L20.85 16.4 L16.5 19.9 Z" fill="#ffcc1a"/><rect x="16.5" y="2.3" width="8.7" height="6.3" fill="#ff9a1a"/>
 <path d="M29.3 2.3 L38.0 2.3 L38.0 19.9 L33.65 16.4 L29.3 19.9 Z" fill="#ff4a6a"/><rect x="29.3" y="2.3" width="8.7" height="6.3" fill="#c8154a"/>
 <path d="M4.1 24.9 L12.799999999999999 24.9 L12.799999999999999 39.3 L8.45 35.8 L4.1 39.3 Z" fill="#ff4a6a"/><rect x="4.1" y="24.9" width="8.7" height="6.3" fill="#c8154a"/>
 <path d="M16.5 24.9 L25.2 24.9 L25.2 39.3 L20.85 35.8 L16.5 39.3 Z" fill="#ff7a22"/><rect x="16.5" y="24.9" width="8.7" height="6.3" fill="#ff2a4a"/>
 <path d="M29.3 24.9 L38.0 24.9 L38.0 39.3 L33.65 35.8 L29.3 39.3 Z" fill="#ffcc1a"/><rect x="29.3" y="24.9" width="8.7" height="6.3" fill="#ff9a1a"/>
</g>
<!-- 月末入库暂估 -->
<g>
 <path d="M389.9 543.5 L408.5 537.5 L427.2 543.5 L427.2 574 L389.9 574 Z" fill="#b9dcea"/>
 <path d="M389 544 L408.5 537.6 L428 544" fill="none" stroke="#7482a6" stroke-width="2" stroke-linejoin="round"/>
 <circle cx="408.5" cy="542.6" r="2.6" fill="#f3e27a" stroke="#d2c85a" stroke-width="0.6"/>
 <path d="M392.9 548.5 L395.5 547.3 L398 548.5 L400.6 547.3 L403.2 548.5 L405.8 547.3 L408.4 548.5 L411 547.3 L413.6 548.5 L416.2 547.3 L418.8 548.5 L421.4 547.3 L424.1 548.5 L424.1 554.6 L392.9 554.6 Z" fill="#dfe2ea"/>
 <rect x="392.9" y="554.6" width="31.2" height="18.6" fill="#a0bad2"/>
 <rect x="404" y="555.4" width="9.1" height="8.4" fill="#f8c676"/>
 <rect x="399.4" y="564.1" width="9.1" height="8.9" fill="#f8c676"/>
 <rect x="408.9" y="564.1" width="9.1" height="8.9" fill="#f8c676"/>
 <g fill="#e0454a"><rect x="407.4" y="555.4" width="2.4" height="2.2"/><rect x="402.8" y="564.1" width="2.4" height="2.2"/><rect x="412.3" y="564.1" width="2.4" height="2.2"/></g>
 <g fill="#a9b4c8"><rect x="407.5" y="561.5" width="2" height="1.5"/><rect x="403" y="571" width="2" height="1.5"/><rect x="412.5" y="571" width="2" height="1.5"/></g>
 <rect x="389.2" y="572.6" width="38.6" height="2" fill="#7482a6"/>
</g>
 <rect x="4" y="40.5" width="40" height="2.2" fill="#7785a8"/>
</g>
<use href="#ri" x="962" y="109.7" width="22" height="30"/>
<use href="#ri" x="962" y="147.1" width="22" height="30"/>
<use href="#ri" x="962" y="184.5" width="22" height="30"/>
<use href="#ri" x="962" y="221.8" width="22" height="30"/>
<use href="#ri" x="962" y="259.2" width="22" height="30"/>
<use href="#ri" x="962" y="296.6" width="22" height="30"/>
<use href="#ri" x="962" y="334.0" width="22" height="30"/>
<use href="#ri" x="962" y="371.4" width="22" height="30"/>
<use href="#ri" x="962" y="408.7" width="22" height="30"/>
<use href="#ri" x="962" y="446.1" width="22" height="30"/>
<use href="#ri" x="962" y="483.5" width="22" height="30"/>
<use href="#ri" x="962" y="520.9" width="22" height="30"/>
<use href="#ri" x="962" y="558.3" width="22" height="30"/>
<use href="#ri" x="962" y="595.6" width="22" height="30"/>
<use href="#ri" x="1124" y="109.2" width="22" height="30"/>
<use href="#ri" x="1124" y="143.2" width="22" height="30"/>
<use href="#ri" x="1124" y="180.2" width="22" height="30"/>
<use href="#ri" x="1124" y="218.2" width="22" height="30"/>
<use href="#ri" x="1124" y="256.2" width="22" height="30"/>
<use href="#ri" x="1124" y="294.2" width="22" height="30"/></svg>
<div class="lbl" style="left:272px;top:167.3px">计划采购单</div>
<div class="lbl" style="left:409.3px;top:167.3px">请购单</div>
<div class="lbl" style="left:271.8px;top:265.6px">计划采购单核销</div>
<div class="lbl" style="left:409.3px;top:265.6px">请购转采购单</div>
<div class="lbl" style="left:565px;top:266.1px">采购订单</div>
<div class="lbl" style="left:714.6px;top:266.1px">采购收货</div>
<div class="lbl" style="left:864px;top:265.6px">收货退回</div>
<div class="lbl" style="left:271.7px;top:365.6px">计划采购单反核销</div>
<div class="lbl" style="left:409px;top:365.6px">询价单</div>
<div class="lbl" style="left:564.8px;top:402.8px">采购入库单</div>
<div class="lbl" style="left:714.3px;top:402.8px">仓库退货单</div>
<div class="lbl" style="left:864px;top:402.8px">采购赠品入库</div>
<div class="lbl" style="left:714.3px;top:490.5px">进货扣款单</div>
<div class="lbl" style="left:265.6px;top:489.8px">采购费用项目设置</div>
<div class="lbl" style="left:265.6px;top:578.8px">采购费用发票</div>
<div class="lbl" style="left:409.5px;top:578.1px">月末入库暂估</div>
<div class="lbl" style="left:565.4px;top:578.3px">采购会计对账</div>
<div class="lbl" style="left:715px;top:582.8px">供应商对账单录入</div>
<div class="lbl" style="left:864px;top:582.8px">与供应商对账</div>
<div class="ri" style="left:995px;top:118.2px">请购单执行情况表</div>
<div class="ri" style="left:995px;top:155.6px">采购订单列表</div>
<div class="ri" style="left:995px;top:193.0px">采购单完成状况表</div>
<div class="ri" style="left:995px;top:230.3px">采购单执行情况明细表</div>
<div class="ri" style="left:995px;top:267.7px">未交采购单查询</div>
<div class="ri" style="left:995px;top:305.1px">入库明细表</div>
<div class="ri" style="left:995px;top:342.5px">采购月结单</div>
<div class="ri" style="left:995px;top:379.9px">采购月对账单</div>
<div class="ri" style="left:992px;top:417.2px">未记账交易检查表-采购</div>
<div class="ri" style="left:995px;top:454.6px">最新采购单价列表</div>
<div class="ri" style="left:995px;top:492.0px">供应商下单数量提醒</div>
<div class="ri" style="left:995px;top:529.4px">供应商准时交货分析</div>
<div class="ri" style="left:995px;top:566.8px">原材料价格变动分析表</div>
<div class="ri" style="left:995px;top:604.1px">供应商采购付款一览表</div>
<div class="ri" style="left:1157px;top:117.7px">收货明细表</div>
<div class="ri" style="left:1157px;top:151.7px">入库汇总表</div>
<div class="ri" style="left:1157px;top:188.7px">计划采购单查询</div>
<div class="ri" style="left:1157px;top:226.7px">采购退换货查询</div>
<div class="ri" style="left:1157px;top:264.7px">采购价格走势</div>
<div class="ri" style="left:1157px;top:302.7px">采购价格差异表</div>

<!-- IME + widget -->
<div class="abs" style="left:1102px;top:658px;width:117px;height:20px;background:#f4f6fa;border-top:1px solid #cfd6e0;border-bottom:1px solid #dfe4ea"></div>
<svg class="abs" style="left:1080px;top:654px" width="140" height="26" viewBox="0 0 140 26">
 <g transform="rotate(-12 14 13)"><rect x="4" y="3.5" width="21" height="19" rx="4" fill="#3cb92e"/></g>
 <path d="M19.5 8.5 C17 6.5 10 7 10 10.5 C10 13.5 19 12.5 19 16 C19 19.5 11.5 19.5 9 17.5" fill="none" stroke="#fff" stroke-width="2.8" stroke-linecap="round"/>
 <path d="M31.5 9 L42 9 M36 9 L35 19.5 M32 14 L40.5 14 L40.5 19.5 M30.5 19.8 L43 19.8" fill="none" stroke="#3d4460" stroke-width="1.8"/>
 <path d="M56 7.8 A7.2 7.2 0 0 1 48 20.2 A8.6 8.6 0 0 0 56 7.8 Z" fill="#3d4460"/>
 <circle cx="70" cy="12" r="1.6" fill="none" stroke="#3d4460" stroke-width="1"/>
 <path d="M76 15 C76.5 17 76 19 74.5 20" stroke="#3d4460" stroke-width="1.8" fill="none"/>
 <rect x="84.5" y="9.5" width="12.5" height="10" rx="1.5" fill="none" stroke="#3d4460" stroke-width="1.4"/>
 <path d="M86.5 12.5 L95 12.5 M86.5 15 L95 15 M88 17.5 L93.5 17.5" stroke="#3d4460" stroke-width="1" stroke-dasharray="1 0.7"/>
 <circle cx="110" cy="11" r="2.8" fill="#3d4460"/>
 <path d="M105 21 C105 16 107.5 14.5 110 14.5 C112.5 14.5 115 16 115 21 Z" fill="#3d4460"/>
 <circle cx="124" cy="12" r="2.6" fill="#3d4460"/><circle cx="130" cy="12" r="2.6" fill="#3d4460"/><circle cx="124" cy="18" r="2.6" fill="#3d4460"/><circle cx="130" cy="18" r="2.6" fill="#3d4460"/>
</svg>
<div class="abs" style="left:1219px;top:631px;width:49px;height:49px;background:#2b2c35"></div>
<div class="abs" style="left:1256px;top:631px;width:12px;height:49px;background:#5e6070"></div>
<svg class="abs" style="left:1219px;top:631px" width="49" height="49" viewBox="0 0 49 49">
 <g fill="#e8875a" transform="translate(18.6 25.2)"><ellipse cx="0" cy="-13.3" rx="3.1" ry="2.6" transform="rotate(0)"/><ellipse cx="0" cy="-13.3" rx="3.1" ry="2.6" transform="rotate(40)"/><ellipse cx="0" cy="-13.3" rx="3.1" ry="2.6" transform="rotate(80)"/><ellipse cx="0" cy="-13.3" rx="3.1" ry="2.6" transform="rotate(120)"/><ellipse cx="0" cy="-13.3" rx="3.1" ry="2.6" transform="rotate(160)"/><ellipse cx="0" cy="-13.3" rx="3.1" ry="2.6" transform="rotate(200)"/><ellipse cx="0" cy="-13.3" rx="3.1" ry="2.6" transform="rotate(240)"/><ellipse cx="0" cy="-13.3" rx="3.1" ry="2.6" transform="rotate(280)"/><ellipse cx="0" cy="-13.3" rx="3.1" ry="2.6" transform="rotate(320)"/></g>
 <circle cx="18.6" cy="25.2" r="11" fill="#2b2c35"/>
 <circle cx="18.6" cy="25.2" r="9.8" fill="#e8875a"/>
 <path d="M14.2 19.2 L23.8 25.2 L14.2 31.2 Z" fill="#2b2c35"/>
 <path d="M17.5 30 L25 23.5 L24.5 31" fill="#e8875a" stroke="#2b2c35" stroke-width="1"/>
 <g fill="#b88a70"><circle cx="43" cy="21" r="1.2"/><circle cx="43" cy="26" r="1.2"/><circle cx="43" cy="31" r="1.2"/></g>
</svg>
<!-- bottom strip -->
<div class="abs" style="left:0;top:679.5px;width:1268px;height:3.5px;background:#cbcccf"></div><div class="abs" style="left:325px;top:679.5px;width:37px;height:3.5px;background:#e2e3e6"></div>
</body></html>
